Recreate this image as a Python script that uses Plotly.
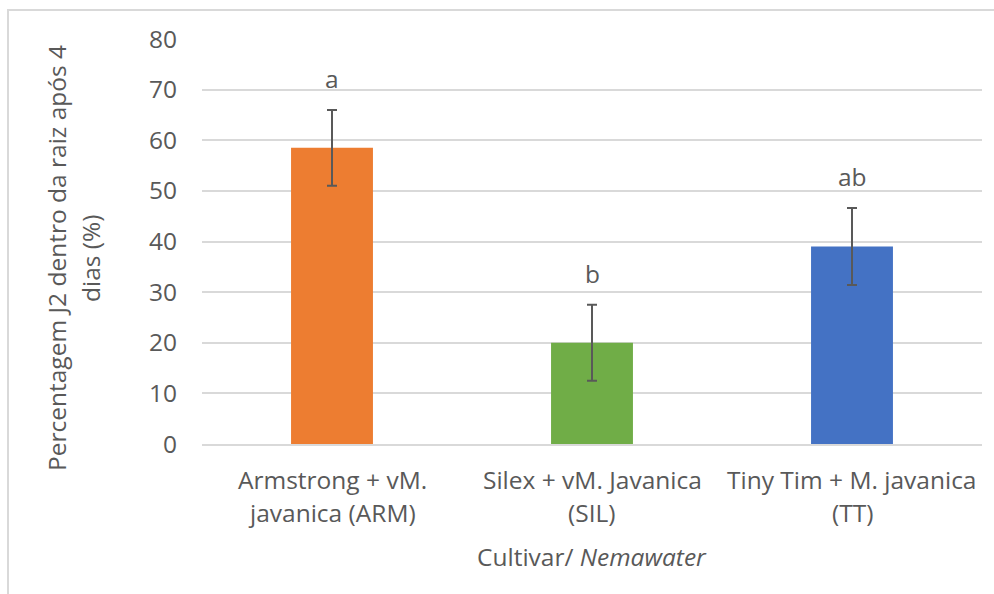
import plotly.graph_objects as go

# Percentage of J2 inside the root after 4 days, per cultivar / nematode combination
categories = ["ARM", "SIL", "TT"]
category_lines = [
    ["Armstrong + vM.", "javanica (ARM)"],
    ["Silex + vM. Javanica", "(SIL)"],
    ["Tiny Tim + M. javanica", "(TT)"],
]
means = [58.5, 20.0, 39.0]
errors = [7.5, 7.5, 7.6]
letters = ["a", "b", "ab"]
bar_colors = ["#ED7D31", "#70AD47", "#4472C4"]

y_ticks = [0, 10, 20, 30, 40, 50, 60, 70, 80]
y_title_lines = ["Percentagem J2 dentro da raiz após 4", "dias (%)"]
x_title = "Cultivar/ <i>Nemawater</i>"

FONT = "Open Sans"
SIZE = 24.5
TXT = "#595959"
GRID = "#D9D9D9"

# plot area geometry (px)
L, R, T, B = 202, 12, 39, 150
W, H = 994, 594
PH = H - T - B


def px_to_paper_y(py):
    return (H - B - py) / PH


def px_to_paper_x(px):
    return (px - L) / (W - L - R)


fig = go.Figure()
fig.add_trace(go.Bar(
    x=categories,
    y=means,
    width=0.315,
    marker=dict(color=bar_colors, line=dict(width=0)),
    error_y=dict(type="data", array=errors, visible=True,
                 color="#595959", thickness=2, width=5),
    showlegend=False,
    hoverinfo="skip",
))

fnt = dict(family=FONT, size=SIZE, color=TXT)

# significance letters above each error bar
for cat, m, e, lab in zip(categories, means, errors, letters):
    fig.add_annotation(
        x=cat, y=m + e, text=lab, showarrow=False,
        yanchor="bottom", yshift=13, font=fnt,
    )

# two-line category labels under each bar
for cat, lines in zip(categories, category_lines):
    for i, line in enumerate(lines):
        fig.add_annotation(
            x=cat, xref="x", y=px_to_paper_y(480 + 32 * i), yref="paper",
            text=line, showarrow=False, xanchor="center", yanchor="middle",
            font=fnt,
        )

# x axis title
fig.add_annotation(
    x=0.5, xref="paper", y=px_to_paper_y(556), yref="paper",
    text=x_title, showarrow=False, xanchor="center", yanchor="middle",
    font=fnt,
)

# rotated y axis title, one annotation per line
for i, line in enumerate(y_title_lines):
    fig.add_annotation(
        x=px_to_paper_x(56 + 34 * i), xref="paper",
        y=px_to_paper_y(258), yref="paper",
        text=line, textangle=-90, showarrow=False,
        xanchor="center", yanchor="middle", font=fnt,
    )

# outer chart frame
fig.add_shape(
    type="rect", xref="paper", yref="paper",
    x0=px_to_paper_x(8), x1=px_to_paper_x(1000),
    y0=px_to_paper_y(600), y1=px_to_paper_y(10),
    line=dict(color=GRID, width=2), fillcolor="rgba(0,0,0,0)",
    layer="below",
)

fig.update_layout(
    width=W, height=H,
    margin=dict(l=L, r=R, t=T, b=B),
    paper_bgcolor="white", plot_bgcolor="white",
    font=fnt,
    xaxis=dict(
        showgrid=False, showline=True, linecolor=GRID, linewidth=1.5,
        ticks="", showticklabels=False,
    ),
    yaxis=dict(
        range=[0, 80], tickvals=y_ticks,
        showgrid=True, gridcolor=GRID, gridwidth=1.5,
        zeroline=False, showline=False, ticks="",
        ticklabelstandoff=24, tickfont=fnt,
    ),
)

fig.write_html("out.html")
